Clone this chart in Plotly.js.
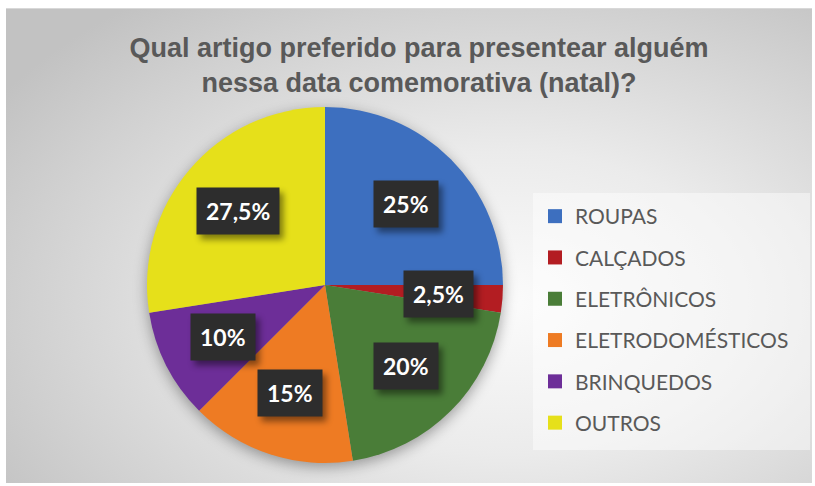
<!DOCTYPE html>
<html>
<head>
<meta charset="utf-8">
<script src="https://cdn.plot.ly/plotly-3.0.1.min.js"></script>
<style>
  html, body { margin: 0; padding: 0; background: #ffffff; }
  #wrap { position: relative; width: 815px; height: 486px; }
  #bg {
    position: absolute; left: 6px; top: 8px; width: 806px; height: 474px;
    background: radial-gradient(ellipse 75% 80% at 62% 62%, #fbfbfb 0%, #ebebeb 40%, #d0d0d0 80%, #c2c2c2 100%);
    border-top: 1px solid #d8d8d8;
  }
  #chart { position: absolute; left: 0; top: 0; width: 815px; height: 486px; }
  .pielayer { filter: drop-shadow(0px 4px 7px rgba(0,0,0,0.35)); }
  .annotation .bg { filter: drop-shadow(4px 5px 3px rgba(0,0,0,0.45)); }
</style>
</head>
<body>
<div id="wrap">
  <div id="bg"></div>
  <div id="chart"></div>
</div>
<script>
// Pie data
const categories = ['ROUPAS', 'CALÇADOS', 'ELETRÔNICOS', 'ELETRODOMÉSTICOS', 'BRINQUEDOS', 'OUTROS'];
const shares = [25, 2.5, 20, 15, 10, 27.5];
const sliceColors = ['#3d6fbf', '#b31d22', '#4a7d38', '#ee7b23', '#6d2e98', '#e6e01a'];

// pie geometry in pixels (used to place the labels)
const W = 815, H = 486;
const cx = 325, cy = 285, radius = 178;

const pie = {
    type: 'pie',
    labels: categories,
    values: shares,
    sort: false,
    direction: 'clockwise',
    rotation: 0,
    textinfo: 'none',
    hoverinfo: 'label+percent',
    showlegend: false,
    marker: { colors: sliceColors, line: { width: 0 } },
    domain: { x: [(cx - radius) / W, (cx + radius) / W], y: [1 - (cy + radius) / H, 1 - (cy - radius) / H] }
};

// dummy traces only to get the legend spacing
const legendTraces = categories.map((c, i) => ({
    type: 'scatter',
    x: [null], y: [null],
    mode: 'markers',
    name: c,
    legendgroup: 'g' + i,
    marker: { symbol: 'square', size: 14, color: sliceColors[i] },
    hoverinfo: 'skip'
}));

// data labels in dark boxes, placed at the middle angle of each slice
const total = shares.reduce((a, b) => a + b, 0);
let acc = 0;
const labelBoxes = shares.map(v => {
    const mid = (acc + v / 2) / total * 2 * Math.PI;
    acc += v;
    const d = radius * 0.64;
    return {
        xref: 'paper', yref: 'paper',
        x: (cx + d * Math.sin(mid)) / W,
        y: 1 - (cy - d * Math.cos(mid)) / H,
        xanchor: 'center', yanchor: 'middle',
        text: String(v).replace('.', ',') + '%',
        showarrow: false,
        bgcolor: '#2d2d2d',
        borderpad: 9,
        font: { family: 'Lato, sans-serif', size: 23, color: '#ffffff', weight: 'bold' }
    };
});

const layout = {
    width: W,
    height: H,
    margin: { l: 0, r: 0, t: 0, b: 0 },
    paper_bgcolor: 'rgba(0,0,0,0)',
    plot_bgcolor: 'rgba(0,0,0,0)',
    title: {
        text: 'Qual artigo preferido para presentear alguém<br>nessa data comemorativa (natal)?',
        x: 419 / W, xanchor: 'center',
        y: 1 - 57 / H, yanchor: 'middle',
        font: { family: 'Liberation Sans, Arial, sans-serif', size: 27, color: '#595959', weight: 'bold' }
    },
    xaxis: { visible: false },
    yaxis: { visible: false },
    showlegend: true,
    legend: {
        x: 535 / W, xanchor: 'left',
        y: 1 - 196 / H, yanchor: 'top',
        bgcolor: 'rgba(0,0,0,0)',
        tracegroupgap: 11,
        font: { family: 'Lato, sans-serif', size: 21, color: '#595959' }
    },
    shapes: [{
        type: 'rect', xref: 'paper', yref: 'paper', layer: 'below',
        x0: 533 / W, x1: 810 / W, y0: 1 - 450 / H, y1: 1 - 193 / H,
        fillcolor: 'rgba(255,255,255,0.45)', line: { width: 0 }
    }],
    annotations: labelBoxes
};

Plotly.newPlot('chart', [pie].concat(legendTraces), layout, { displayModeBar: false, staticPlot: true });
</script>
</body>
</html>
